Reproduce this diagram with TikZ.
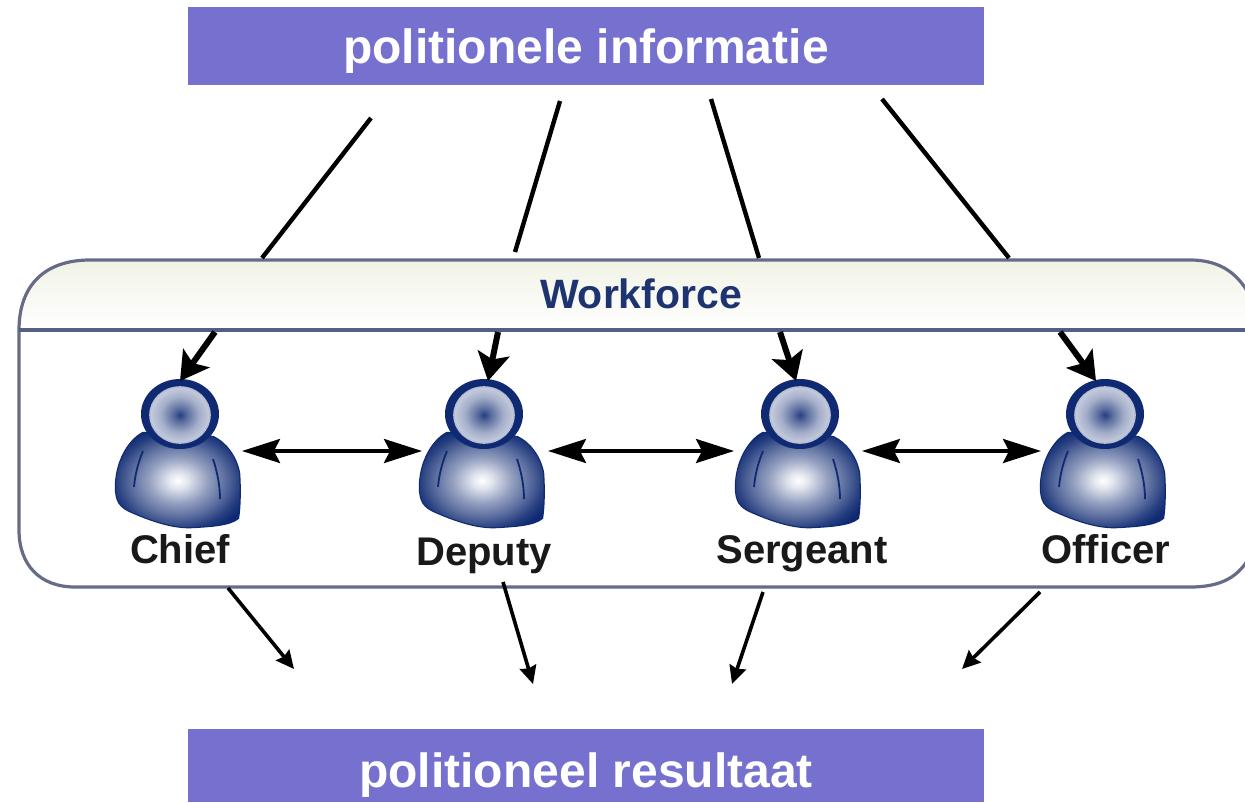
\documentclass[tikz,border=0pt]{standalone}
\usepackage{fontspec}
\setmainfont{Liberation Sans}
\usetikzlibrary{arrows.meta,shadings}
\definecolor{banner}{HTML}{7671CF}
\definecolor{framecol}{HTML}{666C88}
\definecolor{navy}{HTML}{0F2A72}
\definecolor{wftext}{HTML}{1D3470}
\definecolor{headertop}{HTML}{F1F3E6}
\pgfdeclareradialshading{bodyglow}{\pgfpoint{0bp}{0bp}}{
  color(0bp)=(white); color(4bp)=(white!88!navy); color(12bp)=(white!55!navy);
  color(19bp)=(white!32!navy); color(25bp)=(white!10!navy); color(29bp)=(navy); color(50bp)=(navy)}
\pgfdeclareradialshading{headglow}{\pgfpoint{0bp}{0bp}}{
  color(0bp)=(navy!90!white); color(6bp)=(navy!68!white); color(16bp)=(navy!38!white);
  color(26bp)=(navy!22!white); color(50bp)=(navy!12!white)}
\tikzset{
  x=0.5pt,y=-0.5pt,
  person/.pic={
    \path[fill=navy,draw=navy,line width=1.2pt]
      (-37,18) .. controls (-52,26) and (-64,48) .. (-64,72)
      .. controls (-64,86) and (-60,92) .. (-48,97)
      .. controls (-25,107) and (-5,113) .. (13,112)
      .. controls (30,111) and (50,110) .. (58,103)
      .. controls (60,90) and (60,72) .. (59,58)
      .. controls (56,42) and (46,28) .. (33,22) -- cycle;
    \path[shading=bodyglow]
      (-37,18) .. controls (-52,26) and (-64,48) .. (-64,72)
      .. controls (-64,86) and (-60,92) .. (-48,97)
      .. controls (-25,107) and (-5,113) .. (13,112)
      .. controls (30,111) and (50,110) .. (58,103)
      .. controls (60,90) and (60,72) .. (59,58)
      .. controls (56,42) and (46,28) .. (33,22) -- cycle;
    \draw[navy,line width=0.9pt] (-37,36) .. controls (-42,48) and (-45,60) .. (-46,72);
    \draw[navy,line width=0.9pt] (33,44) .. controls (37,56) and (40,70) .. (40,84);
    \fill[navy] (0,-1) ellipse [x radius=39,y radius=35];
    \path[shading=headglow,draw=white!70!navy,line width=0.8pt] (0,0) ellipse [x radius=30,y radius=28];
  },
  personbox/.style={minimum width=62pt,minimum height=71pt,inner sep=0pt,outer sep=0pt},
  banner box/.style={fill=banner,minimum width=398pt,inner sep=0pt},
  banner text/.style={text=white,font=\bfseries\fontsize{24}{28}\selectfont,inner sep=0pt,anchor=base},
  role/.style={text=black!90,font=\bfseries\fontsize{20}{24}\selectfont,inner sep=0pt,anchor=base},
  feed/.style={line width=2.2pt,black},
  entry/.style={line width=3pt,black,-{Stealth[length=14pt,width=16pt,inset=3pt]}},
  peer/.style={line width=1.7pt,black,{Stealth[length=19pt,width=12pt,inset=3pt]}-{Stealth[length=19pt,width=12pt,inset=3pt]}},
  outflow/.style={line width=1.8pt,black,-{Stealth[length=9pt,width=8.5pt,inset=1pt]}}
}
\begin{document}
\begin{tikzpicture}
\useasboundingbox (0,0) rectangle (1245,802);
\clip (0,0) rectangle (1245,802);
% workforce frame
\shade[top color=headertop,bottom color=white]
  (19,330) .. controls (19,285) and (45,260) .. (90,260) -- (1190,260)
  .. controls (1222,260) and (1240,275) .. (1252,300) -- (1252,330) -- cycle;
\draw[framecol,line width=1.6pt]
  (19,330) .. controls (19,285) and (45,260) .. (90,260) -- (1190,260)
  .. controls (1222,260) and (1240,275) .. (1252,300) -- (1252,552)
  .. controls (1240,578) and (1220,587) .. (1190,587) -- (75,587)
  .. controls (40,587) and (19,565) .. (19,530) -- cycle;
\draw[framecol!80!navy,line width=1.7pt] (19,330) -- (1252,330);
% banners
\node[banner box,minimum height=39pt] (info) at (586,46) {};
\node[banner box,minimum height=36.5pt] (result) at (586,765.5) {};
\node[banner text] (infotext) at (586,64) {politionele informatie};
\node[banner text] (resulttext) at (586,787) {politioneel resultaat};
\node[text=wftext,font=\bfseries\fontsize{20.5}{24}\selectfont,inner sep=0pt] (wf) at (641,294) {Workforce};
% people
\node[personbox] (chief) at (180,451) {};
\node[personbox] (deputy) at (484,451) {};
\node[personbox] (sergeant) at (800,451) {};
\node[personbox] (officer) at (1105,451) {};
\pic at (180,415) {person};
\pic at (484,415) {person};
\pic at (800,415) {person};
\pic at (1105,415) {person};
\node[role] (chieflabel) at (180,563) {Chief};
\node[role] (deputylabel) at (484,565) {Deputy};
\node[role] (sergeantlabel) at (802,563) {Sergeant};
\node[role] (officerlabel) at (1106,563) {Officer};
% free ends
\coordinate (a1) at (371,118); \coordinate (a2) at (262,258);
\coordinate (b1) at (560,101); \coordinate (b2) at (515,252);
\coordinate (c1) at (711,99);  \coordinate (c2) at (759,258);
\coordinate (d1) at (882,99);  \coordinate (d2) at (1009,258);
\coordinate (e1) at (215,332); \coordinate (e2) at (180,381);
\coordinate (f1) at (498,332); \coordinate (f2) at (488,381);
\coordinate (g1) at (780,332); \coordinate (g2) at (796,381);
\coordinate (h1) at (1060,332);\coordinate (h2) at (1096,381);
\coordinate (p1) at (228,588); \coordinate (p2) at (294,669);
\coordinate (q1) at (503,582); \coordinate (q2) at (533,684);
\coordinate (r1) at (763,592); \coordinate (r2) at (732,684);
\coordinate (s1) at (1040,592);\coordinate (s2) at (962,669);
% connectors
\draw[feed] (a1) -- (a2);
\draw[feed] (b1) -- (b2);
\draw[feed] (c1) -- (c2);
\draw[feed] (d1) -- (d2);
\draw[entry] (e1) -- (e2);
\draw[entry] (f1) -- (f2);
\draw[entry] (g1) -- (g2);
\draw[entry] (h1) -- (h2);
\draw[peer] (chief.east) -- (deputy.west);
\draw[peer] ([xshift=1pt]deputy.east) -- ([xshift=-2pt]sergeant.west);
\draw[peer] (sergeant.east) -- ([xshift=-1pt]officer.west);
\draw[outflow] (p1) -- (p2);
\draw[outflow] (q1) -- (q2);
\draw[outflow] (r1) -- (r2);
\draw[outflow] (s1) -- (s2);
\end{tikzpicture}
\end{document}
